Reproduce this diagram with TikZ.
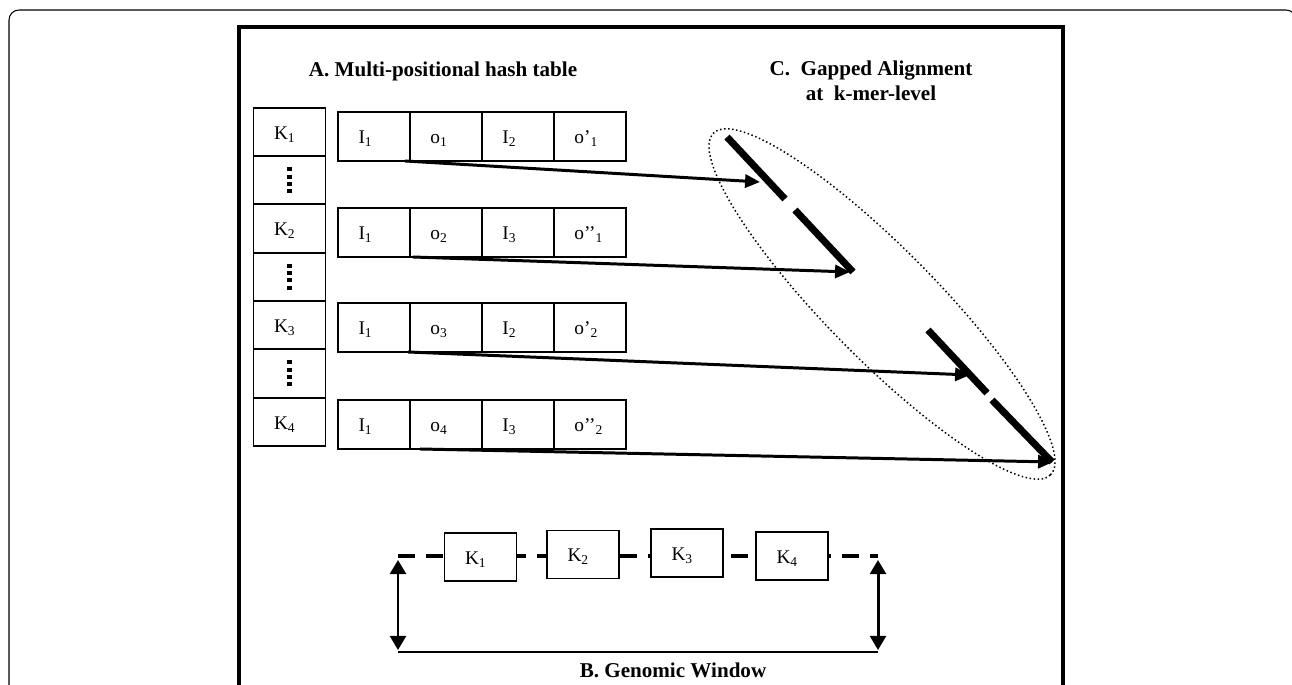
\documentclass[tikz,border=0pt]{standalone}
\usepackage{fontspec}
\setmainfont{Liberation Serif}
\usetikzlibrary{positioning,arrows.meta}

\tikzset{
  keycell/.style={draw, line width=1.1pt, text width=0.62cm, inner xsep=0.41cm,
    inner ysep=0pt, outer sep=0pt, minimum height=0.966cm, text height=9pt, text depth=0.6pt,
    align=left, font=\fontsize{11}{13}\selectfont},
  poscell/.style={keycell, minimum height=0.98cm},
  wincell/.style={keycell, line width=0.9pt, fill=white, minimum height=0.96cm},
  heading/.style={inner sep=0pt, font=\fontsize{12}{14.2}\selectfont\bfseries},
  ptr/.style={line width=1.7pt, -{Triangle[length=8.5pt,width=7.5pt]}},
  gapseg/.style={line width=4pt},
  ringdots/.style={line width=0.85pt, dash pattern=on 0.85pt off 1.45pt},
  winline/.style={line width=1.8pt, dash pattern=on 9.6pt off 6.2pt},
  dblarrow/.style={line width=1.7pt, {Triangle[length=8pt,width=9pt]}-{Triangle[length=8pt,width=9pt]}},
  vdotsline/.style={line width=2.3pt, dash pattern=on 2.3pt off 1.85pt}
}

\begin{document}
\begin{tikzpicture}[x=0.02cm, y=-0.02cm]
    \useasboundingbox (0,0) rectangle (1292,685);
    % frames
    \draw[line width=0.6pt, rounded corners=0.2cm] (9,700) -- (9,10) -- (1296,10) -- (1296,700);
    \draw[line width=1.8pt] (239,700) -- (239,27) -- (1063,27) -- (1063,700);
    % headings
    \node[heading, anchor=base] (atitle) at (443,77) {A. Multi-positional hash table};
    \node[heading, anchor=north, align=center] (ctitle) at (871,61) {C.~~Gapped Alignment\\at~~k-mer-level};
    % key column
    \node[keycell] (k1) at (289.5,132) {K\textsubscript{1}};
    \node[keycell, below=0pt of k1] (d1) {};
    \node[keycell, below=0pt of d1] (k2) {K\textsubscript{2}};
    \node[keycell, below=0pt of k2] (d2) {};
    \node[keycell, below=0pt of d2] (k3) {K\textsubscript{3}};
    \node[keycell, below=0pt of k3] (d3) {};
    \node[keycell, below=0pt of d3] (k4) {K\textsubscript{4}};
    \foreach \d in {d1,d2,d3}
        \draw[vdotsline] ([yshift=0.26cm]\d.center) -- ([yshift=-0.26cm]\d.center);
    % row 1
    \node[poscell] (r1c1) at (374,136.5) {I\textsubscript{1}};
    \node[poscell, right=0pt of r1c1] (r1c2) {o\textsubscript{1}};
    \node[poscell, right=0pt of r1c2] (r1c3) {I\textsubscript{2}};
    \node[poscell, right=0pt of r1c3] (r1c4) {o’\textsubscript{1}};
    % row 2
    \node[poscell] (r2c1) at (374,232.5) {I\textsubscript{1}};
    \node[poscell, right=0pt of r2c1] (r2c2) {o\textsubscript{2}};
    \node[poscell, right=0pt of r2c2] (r2c3) {I\textsubscript{3}};
    \node[poscell, right=0pt of r2c3] (r2c4) {o’’\textsubscript{1}};
    % row 3
    \node[poscell] (r3c1) at (374,327.5) {I\textsubscript{1}};
    \node[poscell, right=0pt of r3c1] (r3c2) {o\textsubscript{3}};
    \node[poscell, right=0pt of r3c2] (r3c3) {I\textsubscript{2}};
    \node[poscell, right=0pt of r3c3] (r3c4) {o’\textsubscript{2}};
    % row 4
    \node[poscell] (r4c1) at (374,424.5) {I\textsubscript{1}};
    \node[poscell, right=0pt of r4c1] (r4c2) {o\textsubscript{4}};
    \node[poscell, right=0pt of r4c2] (r4c3) {I\textsubscript{3}};
    \node[poscell, right=0pt of r4c3] (r4c4) {o’’\textsubscript{2}};
    % gapped alignment
    \coordinate (g1a) at (727,137);
    \coordinate (g1b) at (785,199);
    \coordinate (g1c) at (795,210);
    \coordinate (g1d) at (853,272);
    \coordinate (g2a) at (928,330);
    \coordinate (g2b) at (987,393);
    \coordinate (g2c) at (992,400);
    \coordinate (g2d) at (1052,462);
    \draw[gapseg] (g1a) -- (g1b);
    \draw[gapseg] (g1c) -- (g1d);
    \draw[gapseg] (g2a) -- (g2b);
    \draw[gapseg] (g2c) -- (g2d);
    \draw[ringdots, rotate around={-45.4:(882,304)}] (882,304) ellipse [x radius=4.8cm, y radius=1.1cm];
    % hits
    \coordinate (t1) at (760,182);
    \coordinate (t2) at (850,272);
    \coordinate (t3) at (970,375);
    \coordinate (t4) at (1053,462);
    \draw[ptr] ([xshift=-0.1cm]r1c1.south east) -- (t1);
    \draw[ptr] ([xshift=0.06cm]r2c2.south west) -- (t2);
    \draw[ptr] ([xshift=-0.04cm]r3c1.south east) -- (t3);
    \draw[ptr] ([xshift=0.2cm]r4c2.south west) -- (t4);
    % genomic window
    \coordinate (wl) at (398,556);
    \coordinate (wr) at (878,556);
    \coordinate (wlt) at (398,560);
    \coordinate (wrt) at (878,560);
    \coordinate (bl) at (398,652);
    \coordinate (br) at (878,652);
    \draw[winline] (wl) -- (wr);
    \node[wincell] (w1) at (480.5,557) {K\textsubscript{1}};
    \node[wincell] (w2) at (583,554.5) {K\textsubscript{2}};
    \node[wincell] (w3) at (687,553) {K\textsubscript{3}};
    \node[wincell] (w4) at (792,556) {K\textsubscript{4}};
    \draw[dblarrow] (wlt) -- ([yshift=0.04cm]bl);
    \draw[dblarrow] (wrt) -- ([yshift=0.04cm]br);
    \draw[line width=0.8pt] (bl) -- (br);
    \node[heading, anchor=base] (btitle) at (673,678) {B. Genomic Window};
\end{tikzpicture}
\end{document}
